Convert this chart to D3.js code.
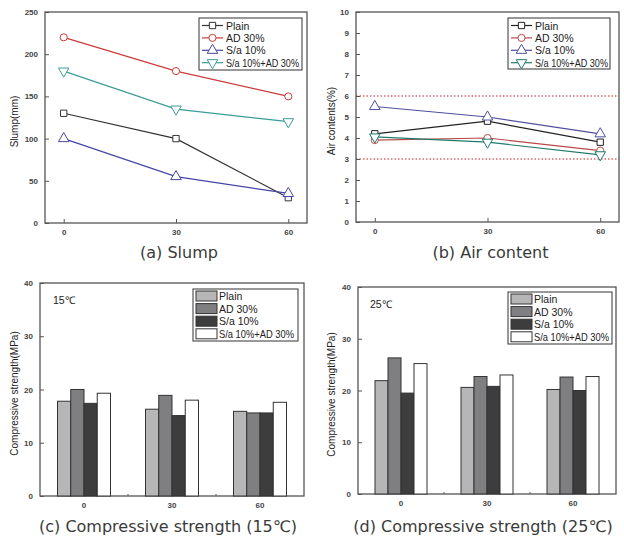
<!DOCTYPE html>
<html>
<head>
<meta charset="utf-8">
<script src="https://cdn.jsdelivr.net/npm/d3@7"></script>
<style>
  body { margin: 0; background: #fff; }
  svg { display: block; }
  .tick text { font-family: "Liberation Sans", Arial, sans-serif; font-size: 8px; font-weight: bold; fill: #444; }
  .leg { font-family: "Liberation Sans", Arial, sans-serif; font-size: 10.5px; fill: #222; }
  .ttl { font-family: "Liberation Sans", Arial, sans-serif; font-size: 10px; fill: #222; }
  .cap { font-family: "DejaVu Sans", sans-serif; font-size: 16px; fill: #3a3a3a; }
</style>
</head>
<body>
<div id="vis"></div>
<script>
// 公共数据
const times = [0, 30, 60];
const mixes = ["Plain", "AD 30%", "S/a 10%", "S/a 10%+AD 30%"];

// (a) slump, mm
const slumpPlain = [130, 100, 30];
const slumpAD = [220, 180, 150];
const slumpSa = [100, 55, 35];
const slumpSaAD = [180, 135, 120];

// (b) air content, %
const airPlain = [4.2, 4.8, 3.8];
const airAD = [3.9, 4.0, 3.4];
const airSa = [5.5, 5.0, 4.2];
const airSaAD = [4.05, 3.8, 3.2];
const airLimits = [3, 6];

// (c)(d) compressive strength, MPa
const str15Plain = [17.8, 16.3, 15.9];
const str15AD = [20.0, 18.9, 15.6];
const str15Sa = [17.4, 15.1, 15.6];
const str15SaAD = [19.3, 18.0, 17.6];
const str25Plain = [21.9, 20.6, 20.2];
const str25AD = [26.3, 22.7, 22.6];
const str25Sa = [19.5, 20.8, 20.0];
const str25SaAD = [25.2, 23.0, 22.7];

const yTicksSlump = [0, 50, 100, 150, 200, 250];
const yTicksAir = d3.range(0, 11);
const yTicksStr = [0, 10, 20, 30, 40];

const svg = d3.select("#vis").append("svg")
    .attr("width", 624)
    .attr("height", 538);

const markerTypes = [d3.symbolSquare, d3.symbolCircle, d3.symbolTriangle, d3.symbolTriangle];
const barFills = ["#b6b6b6", "#7f7f82", "#3d3d3d", "#ffffff"];

// 画坐标框和刻度
function frame(g, x0, x1, yScale, yTicks, xPos, yTitle, titleX) {
    const yTop = yScale.range()[1], yBot = yScale.range()[0];
    g.append("rect")
        .attr("x", x0).attr("y", yTop)
        .attr("width", x1 - x0).attr("height", yBot - yTop)
        .attr("fill", "none").attr("stroke", "#555").attr("stroke-width", 1.3);

    const ya = g.append("g")
        .attr("transform", "translate(" + x0 + ",0)")
        .call(d3.axisLeft(yScale).tickValues(yTicks).tickSizeInner(-4).tickSizeOuter(0).tickPadding(7));
    ya.select(".domain").remove();
    ya.selectAll("line").attr("stroke", "#555");

    const xa = g.append("g")
        .attr("transform", "translate(0," + yBot + ")")
        .call(d3.axisBottom(xPos).tickSizeInner(-4).tickSizeOuter(0).tickPadding(6));
    xa.select(".domain").remove();
    xa.selectAll("line").attr("stroke", "#555");

    g.append("text")
        .attr("class", "ttl")
        .attr("transform", "translate(" + titleX + "," + ((yTop + yBot) / 2 + 4) + ") rotate(-90)")
        .attr("text-anchor", "middle")
        .text(yTitle);
}

// 折线图
function linePanel(opts) {
    const g = svg.append("g");
    const x = d3.scaleLinear().domain([-5, 65]).range([opts.x0, opts.x1]);
    const y = d3.scaleLinear().domain(opts.domain).range([opts.yBot, opts.yTop]);
    const xPos = d3.scalePoint().domain(times).range([x(0), x(60)]);

    if (opts.limits) {
        g.selectAll(".lim")
            .data(opts.limits)
          .enter().append("line")
            .attr("x1", opts.x0).attr("x2", opts.x1)
            .attr("y1", d => y(d)).attr("y2", d => y(d))
            .attr("stroke", "#c81e1e").attr("stroke-width", 1.2)
            .attr("stroke-dasharray", "1.5,2");
    }

    frame(g, opts.x0, opts.x1, y, opts.yTicks, xPos, opts.yTitle, opts.titleX);

    const line = d3.line().x((d, i) => x(times[i])).y(d => y(d));
    opts.series.forEach((s, k) => {
        g.append("path")
            .attr("d", line(s))
            .attr("fill", "none")
            .attr("stroke", opts.colors[k])
            .attr("stroke-width", 1.2);
        g.selectAll(".m" + k)
            .data(s)
          .enter().append("path")
            .attr("transform", (d, i) => "translate(" + x(times[i]) + "," + y(d) + ")" + (k === 3 ? " rotate(180)" : ""))
            .attr("d", d3.symbol().type(markerTypes[k]).size(k >= 2 ? 48 : 40))
            .attr("fill", "#fff")
            .attr("stroke", opts.colors[k])
            .attr("stroke-width", 1);
    });

    // 图例
    const lg = opts.legend;
    g.append("rect")
        .attr("x", lg.x).attr("y", lg.y)
        .attr("width", lg.w).attr("height", lg.h)
        .attr("fill", "#fff").attr("stroke", "#333").attr("stroke-width", 1);
    mixes.forEach((name, k) => {
        const cy = lg.y + 7.5 + k * 12.4;
        g.append("line")
            .attr("x1", lg.x + 3).attr("x2", lg.x + 24)
            .attr("y1", cy).attr("y2", cy)
            .attr("stroke", opts.colors[k]).attr("stroke-width", 1.2);
        g.append("path")
            .attr("transform", "translate(" + (lg.x + 13.5) + "," + cy + ")" + (k === 3 ? " rotate(180)" : ""))
            .attr("d", d3.symbol().type(markerTypes[k]).size(k >= 2 ? 48 : 40))
            .attr("fill", "#fff")
            .attr("stroke", opts.colors[k]);
        g.append("text")
            .attr("class", "leg")
            .attr("x", lg.x + 27).attr("y", cy + 4)
            .attr("textLength", name.length > 10 ? 73 : null)
            .attr("lengthAdjust", "spacingAndGlyphs")
            .text(name);
    });

    g.append("text")
        .attr("class", "cap")
        .attr("x", (opts.x0 + opts.x1) / 2 + 3).attr("y", 258)
        .attr("text-anchor", "middle")
        .text(opts.caption);
}

// 条形图
function barPanel(opts) {
    const g = svg.append("g");
    const y = d3.scaleLinear().domain([0, 40]).range([opts.yBot, opts.yTop]);
    const x = d3.scaleBand().domain(times).range([opts.x0, opts.x1]);
    const xi = d3.scaleBand().domain(mixes).range([0, opts.groupW]);

    frame(g, opts.x0, opts.x1, y, yTicksStr, x, "Compressive strength(MPa)", opts.titleX);
    // 组间小刻度
    g.selectAll(".mt")
        .data(times.slice(1))
      .enter().append("line")
        .attr("x1", d => x(d)).attr("x2", d => x(d))
        .attr("y1", opts.yBot).attr("y2", opts.yBot - 2)
        .attr("stroke", "#555");

    opts.series.forEach((s, k) => {
        g.selectAll(".b" + k)
            .data(s)
          .enter().append("rect")
            .attr("x", (d, i) => x(times[i]) + x.bandwidth() / 2 - opts.groupW / 2 + xi(mixes[k]))
            .attr("width", xi.bandwidth())
            .attr("y", d => y(d))
            .attr("height", d => opts.yBot - y(d))
            .attr("fill", barFills[k])
            .attr("stroke", "#333")
            .attr("stroke-width", 1);
    });

    const lg = opts.legend;
    g.append("rect")
        .attr("x", lg.x).attr("y", lg.y)
        .attr("width", lg.w).attr("height", lg.h)
        .attr("fill", "#fff").attr("stroke", "#333").attr("stroke-width", 1);
    mixes.forEach((name, k) => {
        const cy = lg.y + 7 + k * 12.6;
        g.append("rect")
            .attr("x", lg.x + 3).attr("y", cy - 5)
            .attr("width", 21).attr("height", 10)
            .attr("fill", barFills[k]).attr("stroke", "#333");
        g.append("text")
            .attr("class", "leg")
            .attr("x", lg.x + 26).attr("y", cy + 4)
            .attr("textLength", name.length > 10 ? 75 : null)
            .attr("lengthAdjust", "spacingAndGlyphs")
            .text(name);
    });

    g.append("text")
        .attr("class", "leg")
        .attr("x", opts.tempX).attr("y", opts.yTop + 21)
        .style("font-size", "10.5px")
        .text(opts.temp);

    g.append("text")
        .attr("class", "cap")
        .attr("x", (opts.x0 + opts.x1) / 2 - 4).attr("y", 532)
        .attr("text-anchor", "middle")
        .text(opts.caption);
}

linePanel({
    x0: 45, x1: 307, yTop: 12, yBot: 223,
    domain: [0, 250], yTicks: yTicksSlump,
    yTitle: "Slump(mm)", titleX: 18,
    series: [slumpPlain, slumpAD, slumpSa, slumpSaAD],
    colors: ["#333333", "#cc3b3b", "#4545a8", "#3a9c98"],
    legend: {x: 199, y: 18, w: 103, h: 52},
    caption: "(a) Slump"
});

linePanel({
    x0: 356, x1: 619, yTop: 12, yBot: 222,
    domain: [0, 10], yTicks: yTicksAir,
    yTitle: "Air contents(%)", titleX: 335,
    series: [airPlain, airAD, airSa, airSaAD],
    colors: ["#222222", "#b84a4a", "#5050a0", "#1f7a6c"],
    limits: airLimits,
    legend: {x: 508, y: 18, w: 102, h: 51},
    caption: "(b) Air content"
});

barPanel({
    x0: 40, x1: 304, yTop: 283, yBot: 496, groupW: 53,
    titleX: 18,
    series: [str15Plain, str15AD, str15Sa, str15SaAD],
    legend: {x: 193, y: 289, w: 105, h: 52},
    temp: "15\u2103", tempX: 53,
    caption: "(c) Compressive strength (15\u2103)"
});

barPanel({
    x0: 358, x1: 616, yTop: 287, yBot: 494, groupW: 52,
    titleX: 335,
    series: [str25Plain, str25AD, str25Sa, str25SaAD],
    legend: {x: 508, y: 292, w: 104, h: 52},
    temp: "25\u2103", tempX: 370,
    caption: "(d) Compressive strength (25\u2103)"
});
</script>
</body>
</html>
